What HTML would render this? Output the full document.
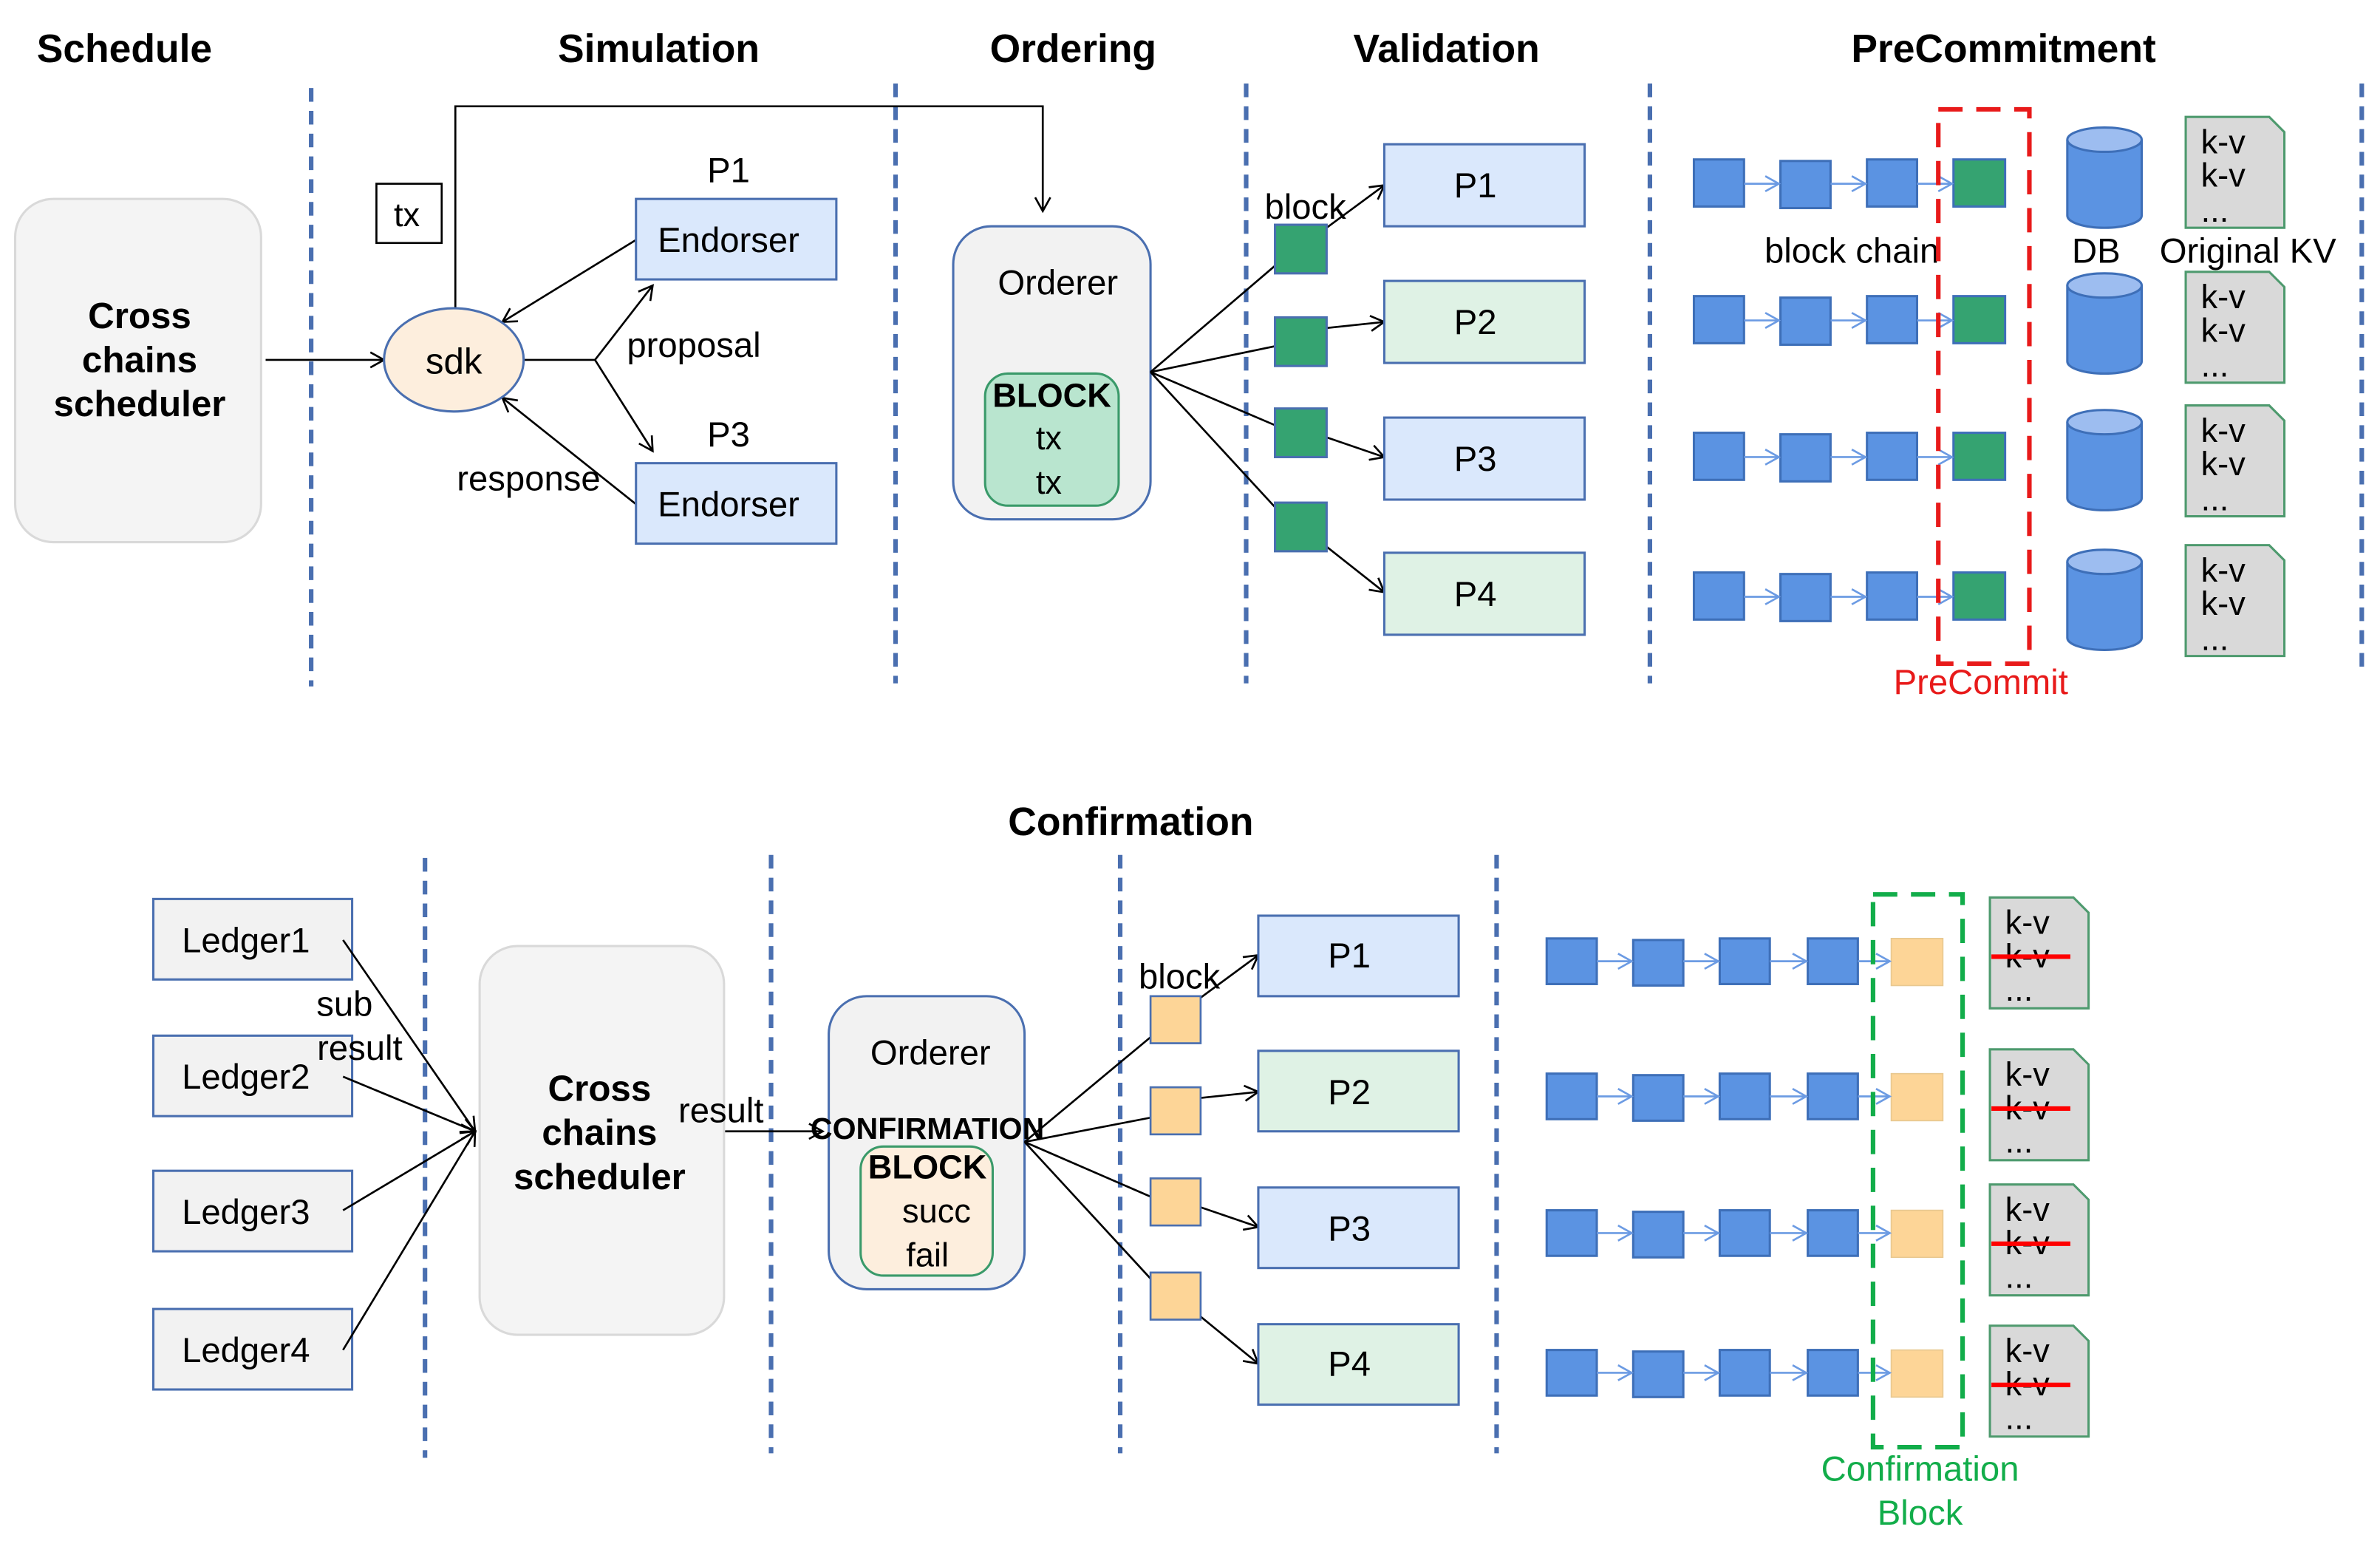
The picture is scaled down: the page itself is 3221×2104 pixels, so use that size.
<!DOCTYPE html>
<html><head><meta charset="utf-8"><style>html,body{margin:0;padding:0;background:#fff}svg{display:block}</style></head>
<body>
<svg width="3221" height="2104" viewBox="0 0 1568 1024" preserveAspectRatio="none" xmlns="http://www.w3.org/2000/svg" font-family="Liberation Sans, Arial, sans-serif">
<defs>
<marker id="a" markerWidth="12" markerHeight="12" refX="10" refY="6" orient="auto" markerUnits="userSpaceOnUse"><path d="M1,1 L10,6 L1,11" fill="none" stroke="#000" stroke-width="1.3"/></marker>
<marker id="b" markerWidth="12" markerHeight="12" refX="10" refY="6" orient="auto" markerUnits="userSpaceOnUse"><path d="M1,1 L10,6 L1,11" fill="none" stroke="#6c9be3" stroke-width="1.3"/></marker>
<g id="doc"><path d="M0,0 H55 L65,10 V73 H0 Z" fill="#d9d9d9" stroke="#4e9a6e" stroke-width="1.5"/></g>
<g id="cyl"><path d="M0,8 V58 A24.5,8 0 0 0 49,58 V8" fill="#5b93e2" stroke="#3e6fb8" stroke-width="1.5"/><ellipse cx="24.5" cy="8" rx="24.5" ry="8" fill="#9dbdf0" stroke="#3e6fb8" stroke-width="1.5"/></g>
<g id="kv1"><use href="#doc" x="1440" y="77"/><g font-size="22"><text x="1450" y="101">k-v</text><text x="1450" y="123">k-v</text><text x="1450" y="146">...</text></g></g>
<g id="kv2"><use href="#doc" x="1311" y="591"/><g font-size="22"><text x="1321" y="615">k-v</text><text x="1321" y="637">k-v</text><text x="1321" y="659">...</text></g><line x1="1312" y1="630" x2="1364" y2="630" stroke="#f00" stroke-width="3"/></g>
</defs>
<g font-weight="bold" font-size="26" text-anchor="middle" fill="#000">
<text x="82" y="41">Schedule</text><text x="434" y="41">Simulation</text><text x="707" y="41">Ordering</text><text x="953" y="41">Validation</text><text x="1320" y="41">PreCommitment</text><text x="745" y="550">Confirmation</text>
</g>
<g stroke="#4a6fb0" stroke-width="3" stroke-dasharray="9,6">
<line x1="205" y1="58" x2="205" y2="452"/><line x1="590" y1="55" x2="590" y2="450"/><line x1="821" y1="55" x2="821" y2="450"/><line x1="1087" y1="55" x2="1087" y2="450"/><line x1="1556" y1="55" x2="1556" y2="445"/>
<line x1="280" y1="565" x2="280" y2="960"/><line x1="508" y1="563" x2="508" y2="957"/><line x1="738" y1="563" x2="738" y2="957"/><line x1="986" y1="563" x2="986" y2="957"/>
</g>
<rect x="10" y="131" width="162" height="226" rx="25" fill="#f4f4f4" stroke="#d9d9d9" stroke-width="1.5"/>
<g font-weight="bold" font-size="24" text-anchor="middle"><text x="92" y="216">Cross</text><text x="92" y="245">chains</text><text x="92" y="274">scheduler</text></g>
<g stroke="#000" stroke-width="1.3" fill="none">
<line x1="175" y1="237" x2="253" y2="237" marker-end="url(#a)"/>
<polyline points="300,203 300,70 687,70 687,139" marker-end="url(#a)"/>
<line x1="419" y1="158" x2="331" y2="212" marker-end="url(#a)"/>
<line x1="419" y1="332" x2="331" y2="262" marker-end="url(#a)"/>
<line x1="345" y1="237" x2="392" y2="237"/>
<line x1="392" y1="237" x2="430" y2="188" marker-end="url(#a)"/>
<line x1="392" y1="237" x2="430" y2="297" marker-end="url(#a)"/>
</g>
<ellipse cx="299" cy="237" rx="46" ry="34" fill="#fdeedd" stroke="#4a6fb0" stroke-width="1.5"/>
<text x="299" y="246" font-size="24" text-anchor="middle">sdk</text>
<rect x="248" y="121" width="43" height="39" fill="#fff" stroke="#000" stroke-width="1.3"/>
<text x="268" y="149" font-size="22" text-anchor="middle">tx</text>
<rect x="419" y="131" width="132" height="53" fill="#dae8fc" stroke="#4a6fb0" stroke-width="1.5"/>
<rect x="419" y="305" width="132" height="53" fill="#dae8fc" stroke="#4a6fb0" stroke-width="1.5"/>
<g font-size="23" text-anchor="middle"><text x="480" y="120">P1</text><text x="480" y="166">Endorser</text><text x="480" y="294">P3</text><text x="480" y="340">Endorser</text></g>
<text x="413" y="235" font-size="23">proposal</text>
<text x="301" y="323" font-size="23">response</text>
<rect x="628" y="149" width="130" height="193" rx="25" fill="#f2f2f2" stroke="#4a6fb0" stroke-width="1.5"/>
<text x="697" y="194" font-size="23" text-anchor="middle">Orderer</text>
<rect x="649" y="246" width="88" height="87" rx="15" fill="#b9e5cf" stroke="#3a9a6a" stroke-width="1.5"/>
<g font-size="22" text-anchor="middle"><text x="693" y="268" font-weight="bold">BLOCK</text><text x="691" y="296">tx</text><text x="691" y="325">tx</text></g>
<g stroke="#000" stroke-width="1.3" fill="none">
<line x1="758" y1="245" x2="840" y2="175"/><line x1="758" y1="245" x2="840" y2="228"/><line x1="758" y1="245" x2="840" y2="280"/><line x1="758" y1="245" x2="840" y2="334"/>
<line x1="874" y1="150" x2="912" y2="122" marker-end="url(#a)"/><line x1="874" y1="216" x2="912" y2="212" marker-end="url(#a)"/><line x1="874" y1="288" x2="912" y2="301" marker-end="url(#a)"/><line x1="874" y1="360" x2="912" y2="390" marker-end="url(#a)"/>
</g>
<g fill="#35a371" stroke="#4a6fb0" stroke-width="1.5"><rect x="840" y="148" width="34" height="32"/><rect x="840" y="209" width="34" height="32"/><rect x="840" y="269" width="34" height="32"/><rect x="840" y="331" width="34" height="32"/></g>
<text x="860" y="144" font-size="23" text-anchor="middle">block</text>
<g stroke="#4a6fb0" stroke-width="1.5"><rect x="912" y="95" width="132" height="54" fill="#dae8fc"/><rect x="912" y="185" width="132" height="54" fill="#dff2e5"/><rect x="912" y="275" width="132" height="54" fill="#dae8fc"/><rect x="912" y="364" width="132" height="54" fill="#dff2e5"/></g>
<g font-size="23" text-anchor="middle"><text x="972" y="130">P1</text><text x="972" y="220">P2</text><text x="972" y="310">P3</text><text x="972" y="399">P4</text></g>
<g id="rowA">
<g fill="#5b93e2" stroke="#3e6fb8" stroke-width="1.5"><rect x="1116" y="105" width="33" height="31"/><rect x="1173" y="106" width="33" height="31"/><rect x="1230" y="105" width="33" height="31"/></g>
<rect x="1287" y="105" width="34" height="31" fill="#35a371" stroke="#3e6fb8" stroke-width="1.5"/>
<g stroke="#6c9be3" stroke-width="1.3"><line x1="1149" y1="121" x2="1172" y2="121" marker-end="url(#b)"/><line x1="1206" y1="121" x2="1229" y2="121" marker-end="url(#b)"/><line x1="1263" y1="121" x2="1286" y2="121" marker-end="url(#b)"/></g>
</g>
<use href="#rowA" y="90"/><use href="#rowA" y="180"/><use href="#rowA" y="272"/>
<use href="#cyl" x="1362" y="84"/><use href="#cyl" x="1362" y="180"/><use href="#cyl" x="1362" y="270"/><use href="#cyl" x="1362" y="362"/>
<use href="#kv1"/><use href="#kv1" y="102"/><use href="#kv1" y="190"/><use href="#kv1" y="282"/>
<g font-size="23" text-anchor="middle"><text x="1220" y="173">block chain</text><text x="1381" y="173">DB</text><text x="1481" y="173">Original KV</text></g>
<rect x="1277" y="72" width="60" height="365" fill="none" stroke="#e81a1a" stroke-width="3" stroke-dasharray="16,9"/>
<text x="1305" y="457" font-size="23" fill="#e81a1a" text-anchor="middle">PreCommit</text>
<g fill="#f2f2f2" stroke="#4a6fb0" stroke-width="1.5"><rect x="101" y="592" width="131" height="53"/><rect x="101" y="682" width="131" height="53"/><rect x="101" y="771" width="131" height="53"/><rect x="101" y="862" width="131" height="53"/></g>
<g font-size="23" text-anchor="middle"><text x="162" y="627">Ledger1</text><text x="162" y="717">Ledger2</text><text x="162" y="806">Ledger3</text><text x="162" y="897">Ledger4</text></g>
<g stroke="#000" stroke-width="1.3" fill="none">
<line x1="226" y1="619" x2="313" y2="745" marker-end="url(#a)"/><line x1="226" y1="709" x2="313" y2="745" marker-end="url(#a)"/><line x1="226" y1="797" x2="313" y2="745" marker-end="url(#a)"/><line x1="226" y1="889" x2="313" y2="745" marker-end="url(#a)"/>
<line x1="477" y1="745" x2="542" y2="745" marker-end="url(#a)"/>
</g>
<text x="227" y="669" font-size="23" text-anchor="middle">sub</text><text x="237" y="698" font-size="23" text-anchor="middle">result</text>
<rect x="316" y="623" width="161" height="256" rx="25" fill="#f4f4f4" stroke="#d9d9d9" stroke-width="1.5"/>
<g font-weight="bold" font-size="24" text-anchor="middle"><text x="395" y="725">Cross</text><text x="395" y="754">chains</text><text x="395" y="783">scheduler</text></g>
<text x="475" y="739" font-size="23" text-anchor="middle">result</text>
<rect x="546" y="656" width="129" height="193" rx="25" fill="#f2f2f2" stroke="#4a6fb0" stroke-width="1.5"/>
<text x="613" y="701" font-size="23" text-anchor="middle">Orderer</text>
<rect x="567" y="755" width="87" height="85" rx="15" fill="#fdeedd" stroke="#3a9a6a" stroke-width="1.5"/>
<text x="611" y="750" font-size="20" font-weight="bold" text-anchor="middle">CONFIRMATION</text>
<g font-size="22" text-anchor="middle"><text x="611" y="776" font-weight="bold">BLOCK</text><text x="617" y="805">succ</text><text x="611" y="834">fail</text></g>
<g stroke="#000" stroke-width="1.3" fill="none">
<line x1="675" y1="752" x2="758" y2="683"/><line x1="675" y1="752" x2="758" y2="736"/><line x1="675" y1="752" x2="758" y2="788"/><line x1="675" y1="752" x2="758" y2="842"/>
<line x1="791" y1="657" x2="829" y2="629" marker-end="url(#a)"/><line x1="791" y1="723" x2="829" y2="719" marker-end="url(#a)"/><line x1="791" y1="795" x2="829" y2="808" marker-end="url(#a)"/><line x1="791" y1="867" x2="829" y2="898" marker-end="url(#a)"/>
</g>
<g fill="#fdd597" stroke="#4a6fb0" stroke-width="1.3"><rect x="758" y="656" width="33" height="31"/><rect x="758" y="716" width="33" height="31"/><rect x="758" y="776" width="33" height="31"/><rect x="758" y="838" width="33" height="31"/></g>
<text x="777" y="651" font-size="23" text-anchor="middle">block</text>
<g stroke="#4a6fb0" stroke-width="1.5"><rect x="829" y="603" width="132" height="53" fill="#dae8fc"/><rect x="829" y="692" width="132" height="53" fill="#dff2e5"/><rect x="829" y="782" width="132" height="53" fill="#dae8fc"/><rect x="829" y="872" width="132" height="53" fill="#dff2e5"/></g>
<g font-size="23" text-anchor="middle"><text x="889" y="637">P1</text><text x="889" y="727">P2</text><text x="889" y="817">P3</text><text x="889" y="906">P4</text></g>
<g id="rowB">
<g fill="#5b93e2" stroke="#3e6fb8" stroke-width="1.5"><rect x="1019" y="618" width="33" height="30"/><rect x="1076" y="619" width="33" height="30"/><rect x="1133" y="618" width="33" height="30"/><rect x="1191" y="618" width="33" height="30"/></g>
<rect x="1246" y="618" width="34" height="31" fill="#fdd597" stroke="#e8c890" stroke-width="0.8"/>
<g stroke="#6c9be3" stroke-width="1.3"><line x1="1052" y1="633" x2="1075" y2="633" marker-end="url(#b)"/><line x1="1109" y1="633" x2="1132" y2="633" marker-end="url(#b)"/><line x1="1166" y1="633" x2="1190" y2="633" marker-end="url(#b)"/><line x1="1224" y1="633" x2="1245" y2="633" marker-end="url(#b)"/></g>
</g>
<use href="#rowB" y="89"/><use href="#rowB" y="179"/><use href="#rowB" y="271"/>
<use href="#kv2"/><use href="#kv2" y="100"/><use href="#kv2" y="189"/><use href="#kv2" y="282"/>
<rect x="1234" y="589" width="59" height="364" fill="none" stroke="#12ad4a" stroke-width="3" stroke-dasharray="16,9"/>
<g font-size="23" fill="#12ad4a" text-anchor="middle"><text x="1265" y="975">Confirmation</text><text x="1265" y="1004">Block</text></g>
</svg>
</body></html>
